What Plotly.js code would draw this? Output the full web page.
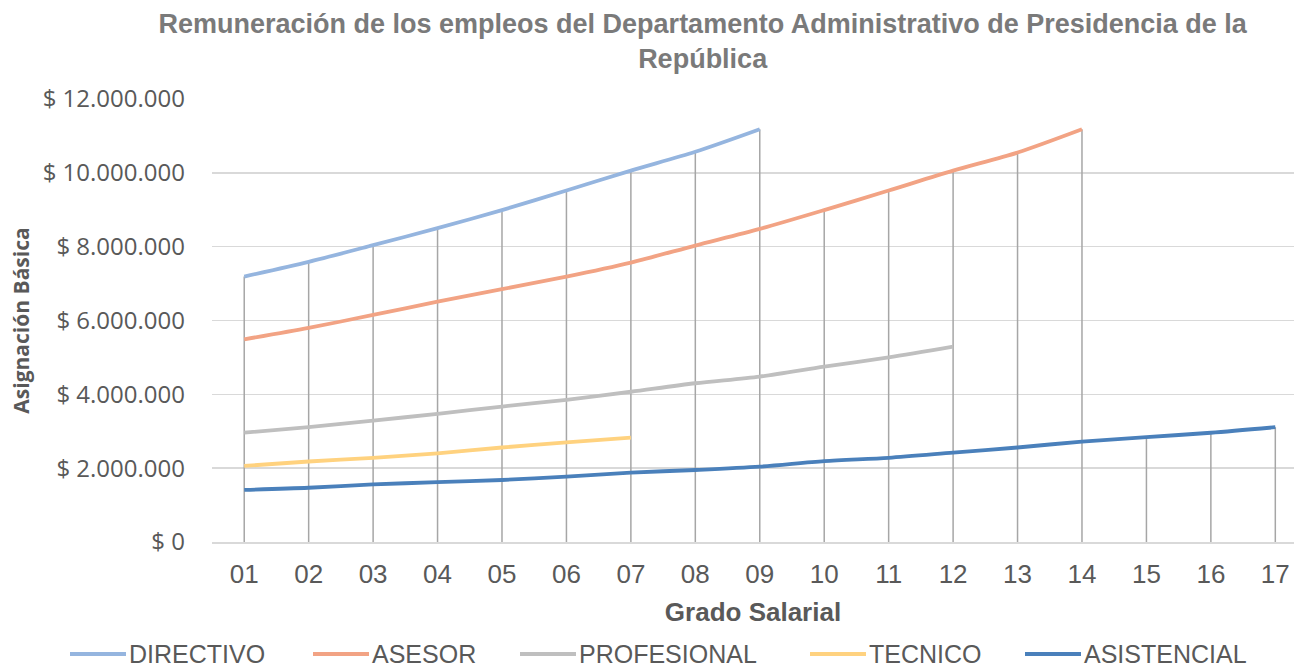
<!DOCTYPE html>
<html>
<head>
<meta charset="utf-8">
<script src="https://cdn.plot.ly/plotly-3.0.1.min.js"></script>
<style>html,body{margin:0;padding:0;background:#fff;}#chart{width:1294px;height:670px;}</style>
</head>
<body>
<div id="chart"></div>
<script>
const grados = ["01","02","03","04","05","06","07","08","09","10","11","12","13","14","15","16","17"];
const directivo   = [7190000, 7590000, 8040000, 8500000, 8990000, 9520000, 10060000, 10570000, 11180000];
const asesor      = [5490000, 5800000, 6150000, 6510000, 6850000, 7190000, 7570000, 8030000, 8480000, 8990000, 9520000, 10060000, 10550000, 11180000];
const profesional = [2960000, 3110000, 3290000, 3470000, 3670000, 3850000, 4070000, 4300000, 4480000, 4750000, 5000000, 5290000];
const tecnico     = [2060000, 2180000, 2280000, 2400000, 2560000, 2700000, 2830000];
const asistencial = [1410000, 1470000, 1560000, 1620000, 1680000, 1770000, 1880000, 1950000, 2040000, 2190000, 2280000, 2420000, 2560000, 2720000, 2840000, 2960000, 3110000];
const yTickVals = [0, 2000000, 4000000, 6000000, 8000000, 10000000, 12000000];
const yTickText = ["$ 0", "$ 2.000.000", "$ 4.000.000", "$ 6.000.000", "$ 8.000.000", "$ 10.000.000", "$ 12.000.000"];
const seriesNames = ["DIRECTIVO", "ASESOR", "PROFESIONAL", "TECNICO", "ASISTENCIAL"];

const seriesValues = [directivo, asesor, profesional, tecnico, asistencial];
const colors = ["#95b5df", "#f2a384", "#bfbfbf", "#ffd27f", "#4a80bb"];

// plot area geometry (pixels) used to place the custom legend
const W = 1294, H = 670, L = 212, T = 99, B = 128;
const plotW = W - L, plotH = H - T - B;
const px2x = p => (p - L) / plotW;
const py2y = p => (H - B - p) / plotH;

// drop lines: from the highest value of each category down to the axis
const dropX = [], dropY = [];
grados.forEach((g, i) => {
  let m = 0;
  seriesValues.forEach(v => { if (i < v.length && v[i] > m) m = v[i]; });
  dropX.push(g, g, null);
  dropY.push(0, m, null);
});

const traces = [{
  x: dropX, y: dropY, mode: "lines", showlegend: false, hoverinfo: "skip",
  line: {color: "#a6a6a6", width: 1.5}
}];
seriesValues.forEach((v, k) => {
  traces.push({
    x: grados.slice(0, v.length), y: v, name: seriesNames[k], mode: "lines", showlegend: false,
    line: {color: colors[k], width: 3.8, shape: "spline", smoothing: 0.8}
  });
});

// custom legend (line sample + label), laid out like the original
const legendLineStarts = [70, 313, 520, 810, 1025];
const legendLineLen = 56;
const legendY = 654;
const shapes = [], annotations = [];
seriesNames.forEach((n, k) => {
  const x0 = legendLineStarts[k], x1 = x0 + legendLineLen;
  shapes.push({type: "line", xref: "paper", yref: "paper",
    x0: px2x(x0), x1: px2x(x1), y0: py2y(legendY), y1: py2y(legendY),
    line: {color: colors[k], width: 4}});
  annotations.push({xref: "paper", yref: "paper", x: px2x(x1 + 1), y: py2y(legendY),
    xanchor: "left", yanchor: "middle", showarrow: false, text: n,
    font: {family: "Liberation Sans, Arial, sans-serif", size: 25, color: "#595959"}});
});

const layout = {
  width: W, height: H,
  margin: {l: L, r: 0, t: T, b: B},
  paper_bgcolor: "#fff", plot_bgcolor: "#fff",
  title: {
    text: "Remuneración de los empleos del Departamento Administrativo de Presidencia de la<br>República",
    font: {family: "Liberation Sans, Arial, sans-serif", size: 27, color: "#7a7a7a", weight: "bold"},
    xref: "container", x: 0.543, xanchor: "center",
    yref: "container", y: 0.951, yanchor: "middle"
  },
  xaxis: {
    type: "category", range: [-0.5, 16.29],
    showgrid: false, zeroline: false,
    showline: true, linecolor: "#d9d9d9", linewidth: 1.5,
    ticks: "", ticklabelstandoff: 8,
    tickfont: {family: "Liberation Sans, Arial, sans-serif", size: 26, color: "#595959"},
    title: {text: "Grado Salarial", font: {family: "Liberation Sans, Arial, sans-serif", size: 26, color: "#595959", weight: "bold"}, standoff: 15}
  },
  yaxis: {
    range: [0, 12000000], tickvals: yTickVals, ticktext: yTickText,
    showgrid: true, gridcolor: "#d9d9d9", gridwidth: 1.5,
    zeroline: false, showline: false, ticks: "",
    tickfont: {family: "Open Sans, sans-serif", size: 24, color: "#595959"},
    ticklabelstandoff: 26,
    title: {text: "Asignación Básica", font: {family: "Open Sans, sans-serif", size: 21, color: "#595959", weight: "bold"}, standoff: 7}
  },
  shapes: shapes,
  annotations: annotations,
  showlegend: false
};

Plotly.newPlot("chart", traces, layout, {displayModeBar: false, staticPlot: true});
</script>
</body>
</html>
